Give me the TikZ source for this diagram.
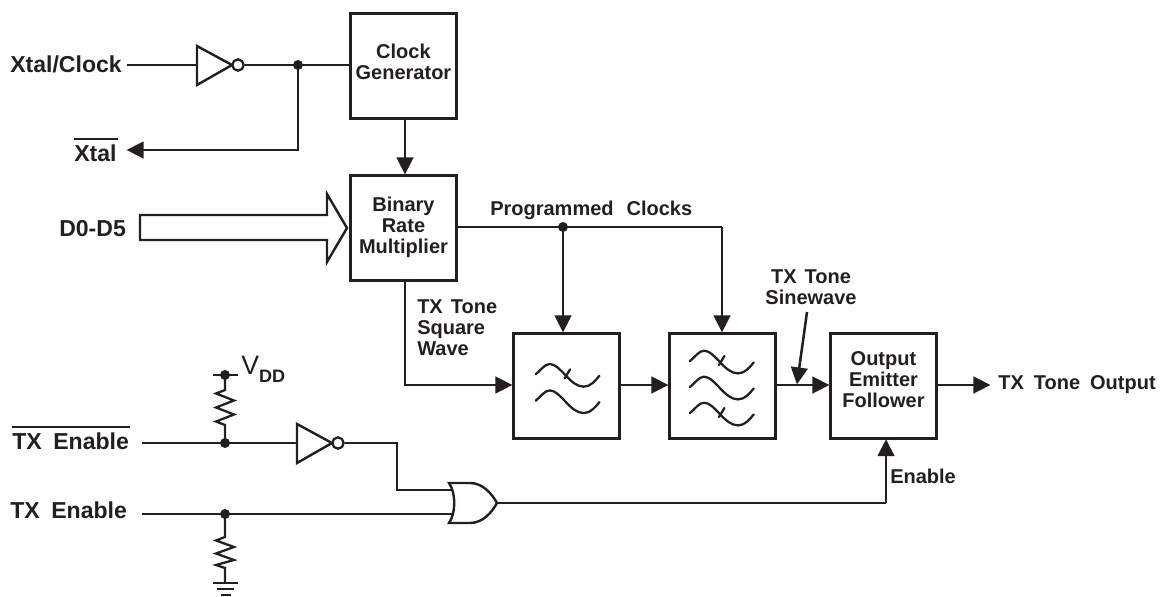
\documentclass[tikz,border=0pt]{standalone}
\usepackage{fontspec}
\setmainfont{Liberation Sans}
\usetikzlibrary{arrows.meta,calc}
\definecolor{ink}{HTML}{231F20}
\tikzset{
  wire/.style={draw=ink,line width=1.9pt},
  arrowed/.style={wire,-{Triangle[length=12.75pt,width=12.5pt]},shorten >=-0.3pt},
  block/.style={draw=ink,line width=2.2pt,inner sep=0pt,minimum width=79.5pt,minimum height=78.5pt,anchor=north west,text=ink,align=center,font=\bfseries\fontsize{15}{15.75}\selectfont},
  lab/.style={inner sep=0pt,text=ink,font=\bfseries\fontsize{15}{15.75}\selectfont,align=left},
  biglab/.style={inner sep=0pt,text=ink,font=\bfseries\fontsize{17.3}{19}\selectfont},
  junction/.style={circle,fill=ink,draw=none,inner sep=0pt,minimum size=7.5pt},
  bubble/.style={circle,draw=ink,line width=1.7pt,fill=white,inner sep=0pt,minimum size=8.5pt},
  gate/.style={draw=ink,line width=1.8pt,line join=miter},
  thin wire/.style={draw=ink,line width=1.7pt,line join=round,line cap=round}
}
\newcommand{\filterwave}[3]{%
  \begin{scope}[shift={(#1,#2)}]
  \draw[thin wire] (0,0) .. controls (5,-4) and (9,-10.3) .. (14,-10.3)
    .. controls (25,-10.3) and (34,12.4) .. (48,12.4)
    .. controls (55,12.4) and (60,6) .. (63.7,1.4);
  \ifnum#3=1\relax
    \draw[thin wire] (29,4) -- (34.4,-5);
  \fi
  \end{scope}
}
\begin{document}
\begin{tikzpicture}[x=0.75pt,y=-0.75pt]
\useasboundingbox (0,0) rectangle (1162,596);
% blocks
\node[block] (clk) at (349,12) {Clock\\Generator\\[-9.75pt]};
\node[block] (brm) at (349,174) {Binary\\Rate\\Multiplier};
\node[block] (f1) at (512,332) {};
\node[block] (f2) at (668,332) {};
\node[block] (oef) at (829,332) {Output\\Emitter\\Follower\\[-6.75pt]};
% labels
\node[biglab,anchor=west] (xclk) at (10,64) {Xtal/Clock};
\node[biglab,anchor=west] (xtal) at (74,150) {\rlap{\raisebox{16.3pt}{\rule{32.5pt}{1.4pt}}}Xtal};
\node[biglab,anchor=west] (d05) at (59,229) {D0-D5};
\node[biglab,anchor=west] (txn) at (12,438) {\rlap{\raisebox{16.3pt}{\rule{88pt}{1.4pt}}}TX\hspace{0.5em}Enable};
\node[biglab,anchor=west] (tx) at (10,510) {TX\hspace{0.5em}Enable};
\node[lab,anchor=west] (pc) at (490,210) {Programmed\hspace{0.65em}Clocks};
\node[lab,anchor=north west] (sq) at (417,299) {TX\hspace{0.4em}Tone\\Square\\Wave};
\node[lab,anchor=center,align=center] (sin) at (811,287) {TX\hspace{0.4em}Tone\\Sinewave};
\node[lab,anchor=west] (en) at (890,476) {Enable};
\node[lab,anchor=west] (out) at (998,385) {TX\hspace{0.5em}Tone\hspace{0.5em}Output};
\node[inner sep=0pt,text=ink,anchor=base west,font=\fontsize{20}{20}\selectfont] (vdd) at (241,374) {V\raisebox{-6pt}{\bfseries\fontsize{13.5}{14}\selectfont DD}};
% coordinates
\coordinate (clkin) at (127,65);
\coordinate (inv1a) at (197,65);
\coordinate (j1) at (298,65);
\coordinate (xtaltip) at (127,150);
\coordinate (cbx) at (405,150);
\coordinate (sqx) at (405,385);
\coordinate (pcx) at (722,227);
\coordinate (j2) at (563,227);
\coordinate (brmout) at (457,227);
\coordinate (f1in) at (512,385);
\coordinate (f1out) at (620,385);
\coordinate (f2in) at (668,385);
\coordinate (f2out) at (777,385);
\coordinate (oefin) at (829,385);
\coordinate (oefout) at (938,385);
\coordinate (outtip) at (990,385);
\coordinate (sinfrom) at (807,312);
\coordinate (sinto) at (797,384);
\coordinate (enx) at (886,503);
% inverter 1
\draw[gate] (197,46) -- (197,85) -- (232,65) -- cycle;
\node[bubble] (b1) at (238,65) {};
\draw[wire] (clkin) -- (inv1a);
\draw[wire] (b1) -- (clk.west |- j1);
\node[junction] (j1n) at (j1) {};
\draw[arrowed,line join=miter] (j1n.center) |- (xtaltip);
% clock to BRM
\draw[arrowed] (cbx |- clk.south) -- (cbx |- brm.north);
% bus
\draw[draw=ink,line width=1.8pt,fill=white,line join=miter] (140,215) -- (327,215) -- (327,194) -- (347,228) -- (327,262) -- (327,240) -- (140,240) -- cycle;
% programmed clocks
\draw[wire,line join=miter] (brmout) -- (pcx);
\draw[arrowed] (pcx) -- (pcx |- f2.north);
\node[junction] (j2n) at (j2) {};
\draw[arrowed] (j2n.center) -- (j2 |- f1.north);
% square wave
\draw[arrowed,line join=miter] (cbx |- brm.south) -- (sqx) -- (f1in);
\draw[arrowed] (f1out) -- (f2in);
\draw[arrowed] (f2out) -- (oefin);
\draw[arrowed] (oefout) -- (outtip);
\draw[arrowed] (sinfrom) -- (sinto);
% waves
\filterwave{535.7}{374.3}{1}
\filterwave{535.7}{400.7}{0}
\filterwave{690}{361}{1}
\filterwave{690}{387}{0}
\filterwave{690}{413}{1}
% TX enable bar line
\coordinate (txnin) at (142,443);
\coordinate (j3) at (225,443);
\coordinate (inv2a) at (297,443);
\coordinate (orup) at (397,490);
\coordinate (orupb) at (452,490);
\draw[gate] (297,424) -- (297,463) -- (332,443) -- cycle;
\node[bubble] (b2) at (338,443) {};
\draw[wire] (txnin) -- (inv2a);
\node[junction] (j3n) at (j3) {};
\draw[wire,line join=miter] (b2) -| (orup) -- (orupb);
% TX enable line
\coordinate (txin) at (142,514);
\coordinate (j4) at (225,514);
\coordinate (orlo) at (452,514);
\draw[wire] (txin) -- (orlo);
\node[junction] (j4n) at (j4) {};
% OR gate
\draw[gate,fill=white] (449,483) -- (470,483) .. controls (483,483) and (492,494) .. (497,503)
  .. controls (492,512) and (483,523) .. (470,523) -- (449,523) .. controls (456,513) and (456,493) .. (449,483) -- cycle;
\coordinate (orout) at (497,503);
\draw[wire] (orout) -- (enx);
\draw[arrowed] (enx) -- (enx |- oef.south);
% VDD
\node[junction] (j5) at (225,375) {};
\coordinate (vl) at (213,375);
\coordinate (vr) at (238,375);
\draw[wire] (vl) -- (vr);
\draw[thin wire,line join=miter] (j5.center) -- (225,390) -- (216,393.5) -- (234,400.5) -- (216,407.5) -- (234,414.5) -- (216,421.5) -- (225,425) -- (j3n.center);
% ground
\coordinate (gnd) at (225,583);
\draw[thin wire,line join=miter] (j4n.center) -- (225,537) -- (216,540.5) -- (234,547) -- (216,553.5) -- (234,560) -- (216,565) -- (225,568) -- (gnd);
\coordinate (g1l) at (213,583); \coordinate (g1r) at (238,583);
\coordinate (g2l) at (217,589); \coordinate (g2r) at (234,589);
\coordinate (g3l) at (221,595); \coordinate (g3r) at (231,595);
\draw[draw=ink,line width=1.1pt] (g1l) -- (g1r) (g2l) -- (g2r) (g3l) -- (g3r);
\end{tikzpicture}
\end{document}
